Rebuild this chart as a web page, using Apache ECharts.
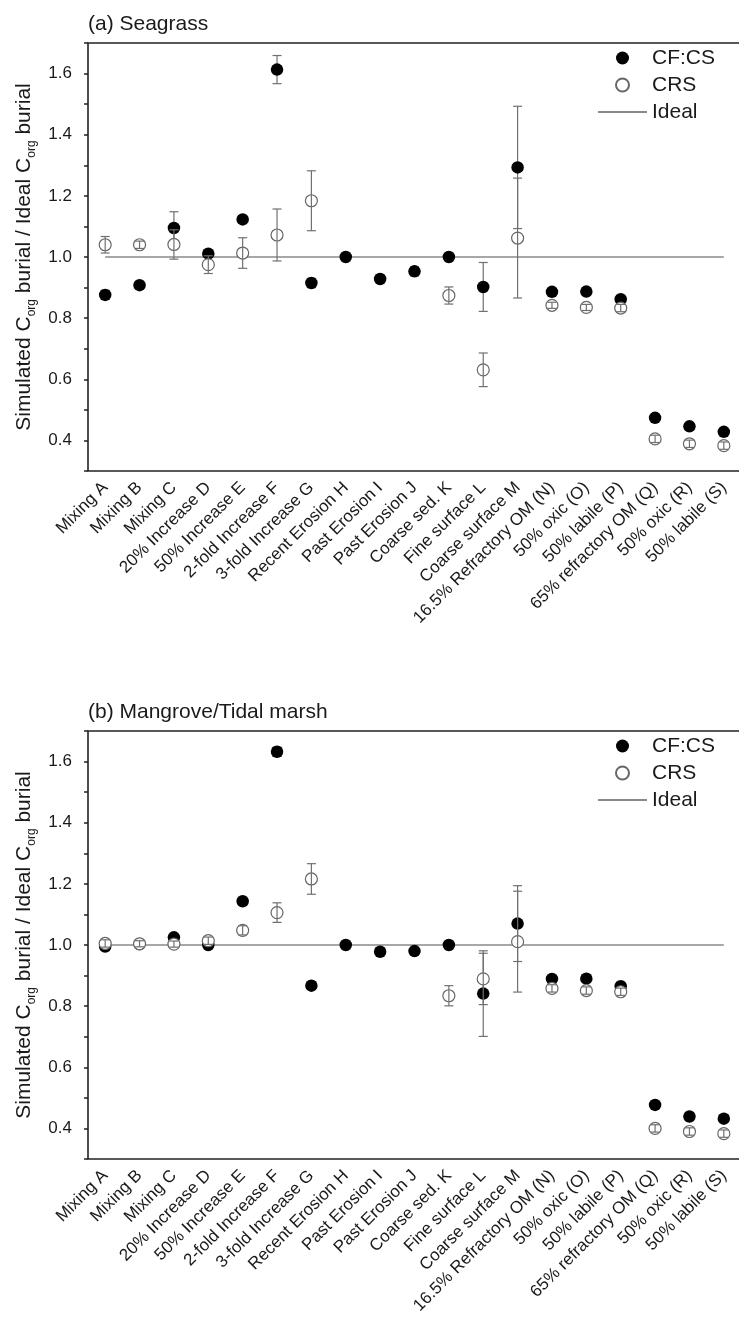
<!DOCTYPE html>
<html><head><meta charset="utf-8">
<script src="https://cdn.jsdelivr.net/npm/echarts@6/dist/echarts.min.js"></script>
<style>html,body{margin:0;padding:0;background:#fff}#c{width:739px;height:1333px}</style>
</head><body><div id="c"></div>
<script>
const categories = ['Mixing A','Mixing B','Mixing C','20% Increase D','50% Increase E','2-fold Increase F','3-fold Increase G','Recent Erosion H','Past Erosion I','Past Erosion J','Coarse sed. K','Fine surface L','Coarse surface M','16.5% Refractory OM (N)','50% oxic (O)','50% labile (P)','65% refractory OM (Q)','50% oxic (R)','50% labile (S)'];
const yTickLabels = ['0.3','0.4','0.5','0.6','0.7','0.8','0.9','1.0','1.1','1.2','1.3','1.4','1.5','1.6','1.7'];
const panelTitles = ['(a) Seagrass','(b) Mangrove/Tidal marsh'];
const yAxisTitle = 'Simulated C{s|org} burial / Ideal C{s|org} burial';
const idealValue = 1.0;

const seagrassCFCS    = [0.876,0.908,1.095,1.011,1.123,1.613,0.915,1.000,0.928,0.953,1.000,0.902,1.293,0.886,0.887,0.862,0.474,0.446,0.428];
const seagrassCFCSErr = [0.015,0.012,0.053,0.010,0.010,0.046,0.015,0.005,0.012,0.015,0.005,0.080,0.200,0.008,0.008,0.010,0.008,0.008,0.008];
const seagrassCRS     = [1.040,1.040,1.041,0.975,1.013,1.072,1.184,null,null,null,0.874,0.631,1.062,0.842,0.835,0.833,0.405,0.389,0.383];
const seagrassCRSErr  = [0.027,0.012,0.048,0.029,0.050,0.085,0.098,null,null,null,0.028,0.055,0.196,0.010,0.010,0.012,0.012,0.012,0.012];

const mangroveCFCS    = [0.995,1.003,1.025,1.000,1.143,1.632,0.867,1.000,0.978,0.980,1.000,0.841,1.070,0.889,0.890,0.865,0.477,0.439,0.432];
const mangroveCFCSErr = [0.008,0.008,0.008,0.008,0.008,0.015,0.008,0.005,0.008,0.008,0.005,0.140,0.124,0.008,0.008,0.010,0.008,0.008,0.008];
const mangroveCRS     = [1.005,1.004,1.003,1.014,1.048,1.106,1.216,null,null,null,0.834,0.889,1.011,0.858,0.851,0.847,0.400,0.390,0.383];
const mangroveCRSErr  = [0.012,0.010,0.010,0.012,0.015,0.032,0.050,null,null,null,0.033,0.084,0.165,0.012,0.012,0.012,0.012,0.012,0.012];

const panels = [
  {cf: seagrassCFCS, cfErr: seagrassCFCSErr, crs: seagrassCRS, crsErr: seagrassCRSErr},
  {cf: mangroveCFCS, cfErr: mangroveCFCSErr, crs: mangroveCRS, crsErr: mangroveCRSErr}
];

const FONT = "'Liberation Sans', Arial, sans-serif";
const TXT = '#1a1a1a';
const AX = '#222';
const GRAY = '#707070';
const gridTops = [43, 731];
const gridH = 428;

function errData(vals, errs) {
  const out = [];
  vals.forEach((v, i) => { if (v != null && errs[i] != null) out.push([i, v - errs[i], v + errs[i]]); });
  return out;
}
function errRender(params, api) {
  const x = api.value(0);
  const p1 = api.coord([x, api.value(1)]);
  const p2 = api.coord([x, api.value(2)]);
  const w = 4.5;
  const st = {stroke: GRAY, lineWidth: 1.2};
  return {type: 'group', children: [
    {type: 'line', shape: {x1: p1[0], y1: p1[1], x2: p2[0], y2: p2[1]}, style: st},
    {type: 'line', shape: {x1: p1[0]-w, y1: p1[1], x2: p1[0]+w, y2: p1[1]}, style: st},
    {type: 'line', shape: {x1: p2[0]-w, y1: p2[1], x2: p2[0]+w, y2: p2[1]}, style: st}
  ]};
}
const oddIdx = (i) => i % 2 === 1;

const grid = [], xAxis = [], yAxis = [], series = [], title = [], legend = [];
panels.forEach((p, k) => {
  grid.push({left: 88, width: 653, top: gridTops[k], height: gridH, show: true, borderColor: AX, borderWidth: 1.6,
    backgroundColor: 'transparent', containLabel: false, outerBoundsMode: 'none'});
  xAxis.push({type: 'category', gridIndex: k, data: categories, boundaryGap: true, position: 'bottom',
    axisLine: {show: false},
    axisTick: {alignWithLabel: true, length: 8, interval: 0, lineStyle: {color: AX, width: 1.5}},
    axisLabel: {rotate: 45, interval: 0, margin: 14, fontSize: 17, color: TXT, fontFamily: FONT},
    splitLine: {show: false}});
  xAxis.push({type: 'category', gridIndex: k, data: categories, boundaryGap: true, position: 'bottom', offset: 0,
    axisLine: {show: false},
    axisTick: {alignWithLabel: false, length: 4, interval: 0, lineStyle: {color: AX, width: 1.5}},
    axisLabel: {show: false}, splitLine: {show: false}});
  yAxis.push({type: 'category', gridIndex: k, data: yTickLabels, boundaryGap: false, position: 'left',
    axisLine: {show: false},
    axisTick: {length: 8, interval: oddIdx, lineStyle: {color: AX, width: 1.5}},
    axisLabel: {interval: oddIdx, margin: 16, fontSize: 17, color: TXT, fontFamily: FONT},
    splitLine: {show: false},
    name: yAxisTitle, nameLocation: 'middle', nameGap: 46,
    nameTextStyle: {fontSize: 21, color: TXT, fontFamily: FONT,
      rich: {s: {fontSize: 12, color: TXT, fontFamily: FONT, verticalAlign: 'bottom', padding: [14, 0, 0, 0]}}}});
  yAxis.push({type: 'value', gridIndex: k, min: 0.3, max: 1.7, interval: 0.1, position: 'left',
    axisLine: {show: false},
    axisTick: {show: true, length: 4, lineStyle: {color: AX, width: 1.5}},
    axisLabel: {show: false}, splitLine: {show: false}});
  const xi = 2 * k, yi = 2 * k + 1;
  series.push({name: 'Ideal', type: 'line', xAxisIndex: xi, yAxisIndex: yi, data: categories.map(() => idealValue),
    symbol: 'none', lineStyle: {color: '#8a8a8a', width: 1.3}, itemStyle: {color: 'transparent', borderColor: 'transparent', opacity: 0}, z: 1, silent: true});
  series.push({type: 'custom', xAxisIndex: xi, yAxisIndex: yi, renderItem: errRender, data: errData(p.cf, p.cfErr), z: 2, silent: true});
  series.push({name: 'CF:CS', type: 'scatter', xAxisIndex: xi, yAxisIndex: yi, data: p.cf, symbol: 'circle', symbolSize: 12.5,
    itemStyle: {color: '#000', opacity: 1}, z: 3});
  series.push({name: 'CRS', type: 'scatter', xAxisIndex: xi, yAxisIndex: yi, data: p.crs, symbol: 'circle', symbolSize: 12,
    itemStyle: {color: '#fff', borderColor: '#666', borderWidth: 1.2, opacity: 1}, z: 4});
  series.push({type: 'custom', xAxisIndex: xi, yAxisIndex: yi, renderItem: errRender, data: errData(p.crs, p.crsErr), z: 5, silent: true});
  title.push({text: panelTitles[k], left: 83, top: gridTops[k] - 34, textStyle: {fontSize: 21, fontWeight: 'normal', color: TXT, fontFamily: FONT}});
  legend.push({data: [{name: 'CF:CS', icon: 'circle'}, {name: 'CRS', icon: 'circle'}, {name: 'Ideal', itemStyle: {opacity: 0}}],
    orient: 'vertical', left: 592, top: gridTops[k] - 1, itemWidth: 49, itemHeight: 13, itemGap: 5,
    textStyle: {fontSize: 21, color: TXT, fontFamily: FONT, lineHeight: 22}, selectedMode: false});
});

const chart = echarts.init(document.getElementById('c'), null, {renderer: 'canvas'});
chart.setOption({animation: false, backgroundColor: '#fff', textStyle: {fontFamily: FONT}, title, legend, grid, xAxis, yAxis, series});
</script></body></html>
